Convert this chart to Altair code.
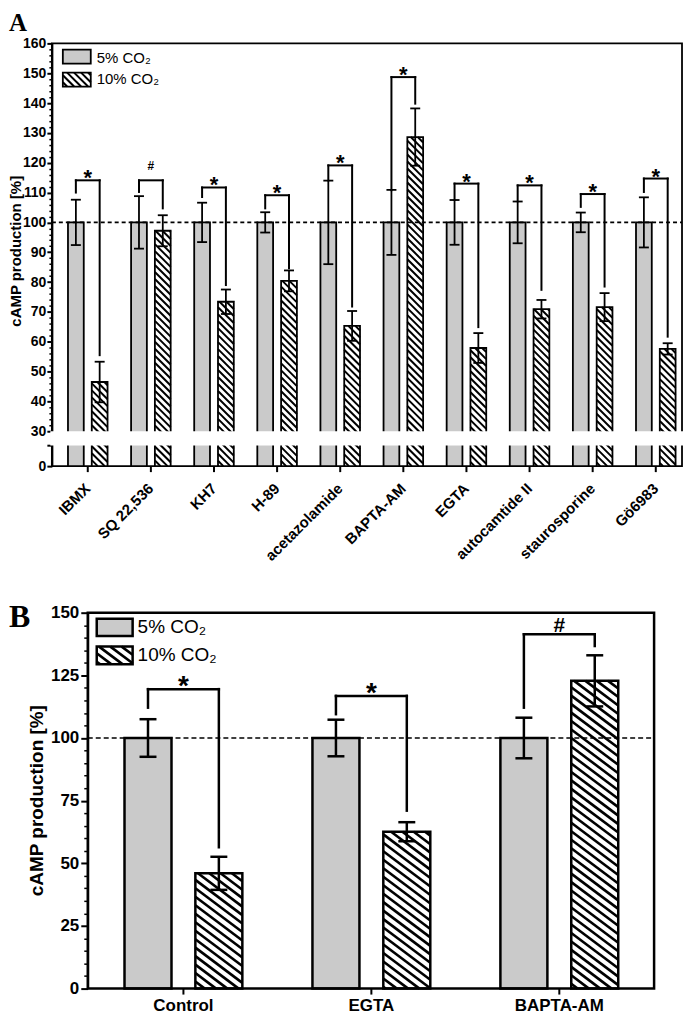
import altair as alt
import numpy as np
import pandas as pd

# ---------------- values ----------------
a_names = ["IBMX", "SQ 22,536", "KH7", "H-89", "acetazolamide", "BAPTA-AM",
           "EGTA", "autocamtide II", "staurosporine", "Gö6983"]
a_ctrl = [100, 100, 100, 100, 100, 100, 100, 100, 100, 100]
a_ctrl_err = [7.6, 8.8, 6.6, 3.4, 14.0, 10.9, 7.5, 7.0, 3.3, 8.4]
a_co2 = [46.5, 97.2, 73.4, 80.4, 65.3, 128.6, 57.9, 70.9, 71.6, 57.6]
a_co2_err = [6.8, 5.2, 4.1, 3.5, 5.0, 9.6, 5.0, 3.1, 4.7, 1.9]
a_sig = ["*", "#", "*", "*", "*", "*", "*", "*", "*", "*"]
a_sig_top = [114.1, 114.1, 111.7, 109.1, 119.1, 148.7, 113.0, 112.4, 109.5, 114.7]
a_sig_left = [110.0, 110.2, 108.5, 104.7, 114.1, 110.8, 107.5, 107.1, 105.2, 110.2]
a_sig_right = [55.5, 104.7, 79.0, 84.6, 71.8, 139.8, 64.9, 77.4, 78.5, 61.7]
a_yticks = [0, 7, 30, 40, 50, 60, 70, 80, 90, 100, 110, 120, 130, 140, 150, 160]
a_yminor = [v for v in range(32, 160, 2) if v % 10 != 0]

b_names = ["Control", "EGTA", "BAPTA-AM"]
b_ctrl = [100, 100, 100]
b_ctrl_err = [7.5, 7.3, 8.1]
b_co2 = [46.0, 62.6, 122.8]
b_co2_err = [6.6, 3.8, 10.2]
b_sig = ["*", "*", "#"]
b_sig_top = [119.5, 116.8, 141.4]
b_sig_left = [112.1, 109.5, 112.1]
b_sig_right = [56.4, 71.0, 136.7]
b_yticks = [0, 25, 50, 75, 100, 125, 150]
b_yminor = [v for v in range(5, 150, 5) if v % 25 != 0]

legend_labels = ["5% CO₂", "10% CO₂"]
y_title = "cAMP production [%]"

FONT = "Liberation Sans"
SERIF = "Liberation Serif"
GREY = "#cacaca"
INNER, OUTER = 0.0635, 0.3135   # bar edges, in group units from the group centre


def seg_interp(v, xs, ys):
    xs = list(xs)
    ys = list(ys)
    if xs[0] > xs[-1]:
        xs, ys = xs[::-1], ys[::-1]
    i = 0
    while i < len(xs) - 2 and v > xs[i + 1]:
        i += 1
    return ys[i] + (v - xs[i]) * (ys[i + 1] - ys[i]) / (xs[i + 1] - xs[i])


def hatch(X0, X1, Y0, Y1, slope, spacing):
    segs = []
    cmin, cmax = Y0 - slope * X1, Y1 - slope * X0
    for k in range(int(np.floor(cmin / spacing)), int(np.ceil(cmax / spacing)) + 1):
        c = k * spacing
        xa = max(X0, (Y0 - c) / slope)
        xb = min(X1, (Y1 - c) / slope)
        if xb - xa > 0.3:
            segs.append((xa, slope * xa + c, xb, slope * xb + c))
    return segs


def panel(p):
    names = p["names"]
    n = len(names)
    idx = np.arange(n)
    W, H, X0, PXU, XOFF = p["W"], p["H"], p["x0"], p["pxu"], p["xoff"]
    XE = X0 + W / PXU
    ydom, yrng = p["ydom"], p["yrng"]
    px_x = lambda v: (v - X0) * PXU
    dx = lambda q: X0 + q / PXU
    px_y = lambda v: seg_interp(v, ydom, yrng)
    dy = lambda q: seg_interp(q, yrng, ydom)

    # the view may be wider than the framed plot: the plot starts XOFF px to the right
    xsc = alt.Scale(domain=[X0 - XOFF / PXU, XE], nice=False, zero=False)
    ysc = alt.Scale(domain=ydom, range=yrng, nice=False, zero=False)

    def X(f):
        return alt.X(f, type="quantitative", scale=xsc, axis=None)

    def Y(f, axis=None):
        return alt.Y(f, type="quantitative", scale=ysc, axis=axis)

    (g0, g1), (h0, h1) = p["leg_sw"]
    lx0, lx1 = p["leg_x"]

    grey = pd.DataFrame({
        "x": list(idx - OUTER) + [dx(lx0)],
        "x2": list(idx - INNER) + [dx(lx1)],
        "y": list(p["ctrl"]) + [dy(g0)],
        "y2": [0.0] * n + [dy(g1)],
    })
    hat = pd.DataFrame({
        "x": list(idx + INNER) + [dx(lx0)],
        "x2": list(idx + OUTER) + [dx(lx1)],
        "y": list(p["co2"]) + [dy(h0)],
        "y2": [0.0] * n + [dy(h1)],
    })
    rows = []
    for _, r in hat.iterrows():
        for (xa, ya, xb, yb) in hatch(px_x(r.x), px_x(r.x2), px_y(r.y), px_y(r.y2),
                                      p["slope"], p["spacing"]):
            rows.append({"x": dx(xa), "y": dy(ya), "x2": dx(xb), "y2": dy(yb)})
    hl = pd.DataFrame(rows)

    yaxis = alt.Axis(values=p["yticks"], labelExpr=p["ylab_expr"], orient="left",
                     offset=-XOFF, tickSize=p["ytick"], tickWidth=2, tickColor="black",
                     domainColor="black", domainWidth=2, labelFont=FONT,
                     labelFontSize=p["ylab_fs"], labelFontWeight="bold", labelColor="black",
                     labelPadding=p["ylab_pad"], grid=False, title=y_title, titleFont=FONT,
                     titleFontSize=p["title_fs"], titleFontWeight="bold", titleColor="black",
                     titleAngle=270, titleBaseline="top", titleAlign="center",
                     titleX=p["title_x"], titleY=p["title_y"])
    yminor = alt.Axis(values=p["yminor"], labels=False, domain=False, orient="left",
                      offset=-XOFF, tickSize=p["ytick_minor"], tickWidth=1.5,
                      tickColor="black", grid=False, title=None)

    sw = p["stroke"]
    layers = [
        alt.Chart(grey).mark_rect(fill=GREY, stroke="black", strokeWidth=sw).encode(
            x=X("x"), x2="x2", y=Y("y", yaxis), y2="y2"),
        alt.Chart(hat).mark_rect(fill="white").encode(
            x=X("x"), x2="x2", y=Y("y"), y2="y2"),
        alt.Chart(hl).mark_rule(color="black", strokeWidth=p["hw"]).encode(
            x=X("x"), x2="x2", y=Y("y"), y2="y2"),
        alt.Chart(hat).mark_rect(fill="white", fillOpacity=0, stroke="black",
                                 strokeWidth=sw).encode(
            x=X("x"), x2="x2", y=Y("y", yminor), y2="y2"),
    ]
    if XOFF > 0:
        frame = pd.DataFrame({"x": [X0], "x2": [XE], "y": [ydom[-1]], "y2": [ydom[0]]})
        layers.append(alt.Chart(frame).mark_rect(fill="white", fillOpacity=0, stroke="black",
                                                 strokeWidth=p["frame"]).encode(
            x=X("x"), x2="x2", y=Y("y"), y2="y2"))
    if p.get("brk"):
        lo, hi = p["brk"]
        mask = pd.DataFrame({"x": [dx(-1.6)], "x2": [dx(W + 1.6)], "y": [hi], "y2": [lo]})
        layers.append(alt.Chart(mask).mark_rect(fill="white").encode(
            x=X("x"), x2="x2", y=Y("y"), y2="y2"))

    # x-axis ticks and category labels
    xt = pd.DataFrame({"x": idx, "y": 0.0, "y2": dy(H + 6), "ly": dy(H + 6 + p["xlab_pad"]),
                       "name": names})
    layers.append(alt.Chart(xt).mark_rule(color="black", strokeWidth=2).encode(
        x=X("x"), y=Y("y"), y2="y2"))
    layers.append(alt.Chart(xt).mark_text(font=FONT, fontSize=p["xlab_fs"], fontWeight="bold",
                                          color="black", angle=p["lab_angle"],
                                          align=p["lab_align"], baseline=p["lab_base"]).encode(
        x=X("x"), y=Y("ly"), text="name:N"))

    ref = pd.DataFrame({"x": [X0], "x2": [XE], "y": [100]})
    layers.append(alt.Chart(ref).mark_rule(color="black", strokeWidth=1.6,
                                           strokeDash=p["dash"]).encode(
        x=X("x"), x2="x2", y=Y("y")))

    cc = list(idx - (INNER + OUTER) / 2)
    hc = list(idx + (INNER + OUTER) / 2)
    err = pd.DataFrame({
        "x": cc + hc,
        "lo": [m - e for m, e in zip(p["ctrl"], p["ctrl_err"])] + [m - e for m, e in zip(p["co2"], p["co2_err"])],
        "hi": [m + e for m, e in zip(p["ctrl"], p["ctrl_err"])] + [m + e for m, e in zip(p["co2"], p["co2_err"])],
    })
    layers.append(alt.Chart(err).mark_rule(color="black", strokeWidth=p["ew"]).encode(
        x=X("x"), y=Y("lo"), y2="hi"))
    caps = pd.DataFrame({"x": list(err.x) * 2, "y": list(err.lo) + list(err.hi)})
    layers.append(alt.Chart(caps).mark_tick(color="black", orient="horizontal",
                                            size=p["cap"], thickness=p["ew"], opacity=1).encode(
        x=X("x"), y=Y("y")))

    br = []
    for i in range(n):
        br.append({"x": cc[i], "x2": cc[i], "y": p["sig_left"][i], "y2": p["sig_top"][i]})
        br.append({"x": cc[i], "x2": hc[i], "y": p["sig_top"][i], "y2": p["sig_top"][i]})
        br.append({"x": hc[i], "x2": hc[i], "y": p["sig_top"][i], "y2": p["sig_right"][i]})
    layers.append(alt.Chart(pd.DataFrame(br)).mark_rule(color="black", strokeWidth=p["bw"],
                                                        strokeCap="square").encode(
        x=X("x"), x2="x2", y=Y("y"), y2="y2"))

    sig = pd.DataFrame({"x": [(a + b) / 2 for a, b in zip(cc, hc)], "y": p["sig_top"],
                        "t": p["sig"]})
    for sym, fs, off in p["sig_style"]:
        layers.append(alt.Chart(sig).transform_filter(alt.datum.t == sym).mark_text(
            font=FONT, fontSize=fs, fontWeight="bold", color="black", align="center",
            baseline="alphabetic", dy=off).encode(
            x=X("x"), y=Y("y"), text="t:N"))

    leg = pd.DataFrame({"x": [dx(p["leg_tx"])] * 2,
                        "y": [dy(p["leg_base"][0]), dy(p["leg_base"][1])],
                        "t": legend_labels})
    layers.append(alt.Chart(leg).mark_text(font=FONT, fontSize=p["leg_fs"], color="black",
                                           align="left", baseline="alphabetic").encode(
        x=X("x"), y=Y("y"), text="t:N"))

    let = pd.DataFrame({"x": [dx(p["letter_pos"][0])], "y": [dy(p["letter_pos"][1])],
                        "t": [p["letter"]]})
    layers.append(alt.Chart(let).mark_text(font=SERIF, fontSize=p["letter_fs"],
                                           fontWeight="bold", color="black", align="left",
                                           baseline="alphabetic").encode(
        x=X("x"), y=Y("y"), text="t:N"))

    if XOFF > 0:
        view = alt.ViewBackground(strokeOpacity=0)
    else:
        view = alt.ViewBackground(stroke="black", strokeWidth=p["frame"])
    return alt.layer(*layers).resolve_axis(y="independent").properties(
        width=W + XOFF, height=H, view=view)


A = dict(names=a_names, ctrl=a_ctrl, ctrl_err=a_ctrl_err, co2=a_co2, co2_err=a_co2_err,
         sig=a_sig, sig_top=a_sig_top, sig_left=a_sig_left, sig_right=a_sig_right,
         W=632, H=424, x0=-0.5687, pxu=63.3, xoff=0,
         ydom=[0, 7, 30, 160], yrng=[424, 403.3, 389, 0], brk=(7, 30),
         yticks=a_yticks, yminor=a_yminor,
         ylab_expr="datum.value == 7 ? '' : datum.label",
         ytick=5, ytick_minor=3, ylab_fs=14, ylab_pad=1,
         title_fs=15, title_x=-43, title_y=208,
         lab_angle=315, lab_align="right", lab_base="middle", xlab_fs=15, xlab_pad=14,
         slope=1.0, spacing=7, hw=2.0, stroke=1.8, ew=1.8, cap=10, bw=2.0,
         dash=[4, 3], sig_style=[("*", 22, 5), ("#", 12, -10)],
         leg_sw=[(6.3, 20.3), (29.3, 43.3)], leg_x=(11, 39), leg_tx=45,
         leg_base=(19.3, 40.3), leg_fs=15,
         letter="A", letter_pos=(-43, -12.7), letter_fs=25, frame=1.8)

B = dict(names=b_names, ctrl=b_ctrl, ctrl_err=b_ctrl_err, co2=b_co2, co2_err=b_co2_err,
         sig=b_sig, sig_top=b_sig_top, sig_left=b_sig_left, sig_right=b_sig_right,
         W=568, H=377, x0=-0.509, pxu=188.5, xoff=36,
         ydom=[0, 150], yrng=[377, 0],
         yticks=b_yticks, yminor=b_yminor, ylab_expr="datum.label",
         ytick=7, ytick_minor=4, ylab_fs=17, ylab_pad=2,
         title_fs=19, title_x=-60, title_y=188,
         lab_angle=0, lab_align="center", lab_base="top", xlab_fs=17, xlab_pad=3,
         slope=0.75, spacing=8.5, hw=2.6, stroke=2.5, ew=2.5, cap=17, bw=2.5,
         dash=[5, 3], sig_style=[("*", 28, 6), ("#", 21, -2)],
         leg_sw=[(6, 23.3), (34, 51.6)], leg_x=(9, 45), leg_tx=50,
         leg_base=(20.6, 48.3), leg_fs=19,
         letter="B", letter_pos=(-79, 14.3), letter_fs=32, frame=2.5)

chart = alt.vconcat(panel(A), panel(B), spacing=35).properties(
    padding={"left": 0, "top": 0, "right": 0, "bottom": 0})

chart.save("out.html", embed_options={"renderer": "svg", "actions": False})
